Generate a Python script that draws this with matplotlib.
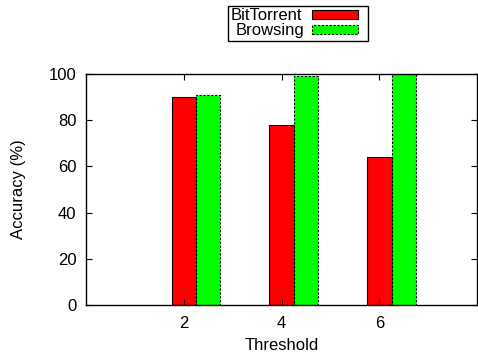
import matplotlib
matplotlib.use("Agg")
import matplotlib.pyplot as plt
from matplotlib.patches import Rectangle
from matplotlib.legend_handler import HandlerPatch

thresholds = [2, 4, 6]
bittorrent = [90, 78, 64]
browsing = [91, 99, 100]

plt.rcParams['font.family'] = ['Liberation Sans', 'DejaVu Sans']
plt.rcParams['font.size'] = 12

fig = plt.figure(figsize=(4.78, 3.56), dpi=100)
ax = fig.add_axes([0.18, 0.143, 0.818, 0.649])

w = 0.5
dashed = (0, (2, 1.5))
# gnuplot-style cluster: first bar starts a quarter unit left of the tick
ax.bar([t - 0.25 for t in thresholds], bittorrent, width=w, align='edge',
       color='#ff0000', edgecolor='black', linewidth=0.8)
ax.bar([t + 0.25 for t in thresholds], browsing, width=w, align='edge',
       color='#00ff00', edgecolor='black', linewidth=0.8, linestyle=dashed)

ax.set_xlim(0, 8)
ax.set_ylim(0, 100)
ax.set_xticks(thresholds)
ax.set_yticks(range(0, 101, 20))
ax.tick_params(direction='in', top=True, right=True, length=4, width=0.8)
ax.tick_params(axis='y', pad=7)
ax.tick_params(axis='x', pad=8)
ax.set_xlabel("Threshold", labelpad=5)
ax.set_ylabel("Accuracy (%)", labelpad=16)
for s in ax.spines.values():
    s.set_linewidth(1.0)


def short_box(legend, orig_handle, xdescent, ydescent, width, height, fontsize):
    return Rectangle((-xdescent, -ydescent), width - 5, height)


handles = [Rectangle((0, 0), 1, 1, facecolor='#ff0000', edgecolor='black', linewidth=0.8),
           Rectangle((0, 0), 1, 1, facecolor='#00ff00', edgecolor='black', linewidth=0.8,
                     linestyle=dashed)]
leg = fig.legend(handles, ["BitTorrent", "Browsing"], loc='center',
                 bbox_to_anchor=(0.623, 0.935), markerfirst=False, frameon=True,
                 fancybox=False, edgecolor='black', framealpha=1,
                 handlelength=3.2, handleheight=0.45, handletextpad=0.6,
                 labelspacing=0.0, borderpad=0.15, borderaxespad=0,
                 handler_map={Rectangle: HandlerPatch(patch_func=short_box)})
leg.get_frame().set_linewidth(1.0)

# right-align the legend labels like gnuplot does
renderer = fig.canvas.get_renderer()
widths = [t.get_window_extent(renderer).width for t in leg.get_texts()]
for t, tw in zip(leg.get_texts(), widths):
    t.set_position((max(widths) - tw, 0))

fig.savefig("out.png", dpi=100)
